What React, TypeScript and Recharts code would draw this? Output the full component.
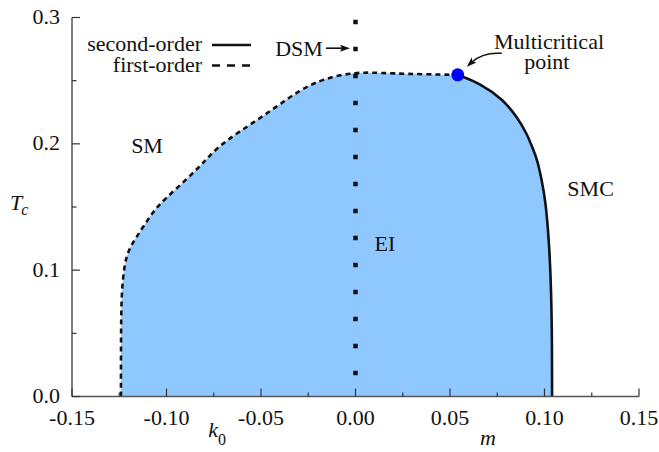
import React from 'react';
import {
  ComposedChart,
  Area,
  Line,
  Scatter,
  XAxis,
  YAxis,
  ReferenceDot,
  Legend,
} from 'recharts';

const FONT = 'Liberation Serif';
const INK = '#111';
const FRAME = '#555';
const FILL = '#8fc7ff';

// First-order branch of the phase boundary (k0 side up to the multicritical point)
const firstOrderX = [
  -0.1241, -0.1241, -0.124, -0.1237, -0.1225, -0.1202, -0.1158, -0.1105, -0.1052,
  -0.0946, -0.0823, -0.077, -0.0681, -0.0558, -0.0417, -0.0294, -0.0188, -0.01,
  0.0, 0.008, 0.02, 0.035, 0.0541,
];
const firstOrderT = [
  0, 0.03, 0.0632, 0.0817, 0.1028, 0.116, 0.1265, 0.1384, 0.1503,
  0.1648, 0.182, 0.1912, 0.2031, 0.215, 0.2295, 0.2427, 0.25, 0.254,
  0.2562, 0.2565, 0.2557, 0.2551, 0.2546,
];

// Second-order branch (m side, from the multicritical point down to T = 0)
const secondOrderX = [
  0.0541, 0.0659, 0.0782, 0.0853, 0.0906, 0.0941, 0.0962, 0.0985, 0.1005, 0.1025,
  0.1036, 0.104, 0.104,
];
const secondOrderT = [
  0.2546, 0.248, 0.235, 0.2215, 0.2084, 0.1952, 0.1872, 0.1714, 0.1556, 0.1215,
  0.082, 0.04, 0,
];

// Multicritical point
const multicriticalX = 0.0541;
const multicriticalT = 0.2546;

// DSM line at k0 = m = 0
const dsmX = [0, 0];
const dsmT = [0.3, 0];

// Axis ticks
const xTicks = [-0.15, -0.1, -0.05, 0, 0.05, 0.1, 0.15];
const xMinorTicks = [-0.125, -0.075, -0.025, 0.025, 0.075, 0.125];
const yTicks = [0, 0.1, 0.2, 0.3];
const yMinorTicks = [0.05, 0.15, 0.25];

const toPoints = (xs: number[], ts: number[]) => xs.map((x, i) => ({ x, y: ts[i] }));

const firstOrder = toPoints(firstOrderX, firstOrderT);
const secondOrder = toPoints(secondOrderX, secondOrderT);
const boundary = [...firstOrder, ...secondOrder.slice(1)];
const dsm = toPoints(dsmX, dsmT);
const multicritical = [{ x: multicriticalX, y: multicriticalT }];

const allX = [...xTicks, ...xMinorTicks].sort((a, b) => a - b);
const allY = [...yTicks, ...yMinorTicks].sort((a, b) => a - b);

const isMajor = (list: number[], v: number) => list.some((t) => Math.abs(t - v) < 1e-9);

const Label = ({ x, y, anchor = 'middle', size = 22, italic = false, children }: any) => (
  <text
    x={x}
    y={y}
    textAnchor={anchor}
    fill={INK}
    style={{ fontFamily: FONT, fontSize: size, fontStyle: italic ? 'italic' : 'normal' }}
  >
    {children}
  </text>
);

const BottomTick = (props: any) => {
  const { x, y, payload } = props;
  const v = payload.value as number;
  const major = isMajor(xTicks, v);
  return (
    <g>
      <line x1={x} x2={x} y1={y} y2={y - (major ? 8 : 4)} stroke="#333" strokeWidth={1.2} />
      {major && (
        <Label x={x} y={y + 28.5}>
          {v.toFixed(2)}
        </Label>
      )}
    </g>
  );
};

const TopTick = (props: any) => {
  const { x, y, payload } = props;
  const major = isMajor(xTicks, payload.value);
  return <line x1={x} x2={x} y1={y} y2={y + (major ? 8 : 4)} stroke="#333" strokeWidth={1.2} />;
};

const LeftTick = (props: any) => {
  const { x, y, payload } = props;
  const v = payload.value as number;
  const major = isMajor(yTicks, v);
  return (
    <g>
      <line x1={x} x2={x + (major ? 8 : 4.5)} y1={y} y2={y} stroke="#333" strokeWidth={1.2} />
      {major && (
        <Label x={x - 12} y={y + 6.5} anchor="end">
          {v.toFixed(1)}
        </Label>
      )}
    </g>
  );
};

const RightTick = (props: any) => {
  const { x, y, payload } = props;
  const major = isMajor(yTicks, payload.value);
  return <line x1={x} x2={x - (major ? 8 : 4.5)} y1={y} y2={y} stroke="#333" strokeWidth={1.2} />;
};

const textShape =
  (label: string, anchor: 'start' | 'middle' | 'end' = 'middle') =>
  (p: any) => (
    <Label x={p.cx} y={p.cy} anchor={anchor}>
      {label}
    </Label>
  );

// Straight arrow pointing right, tip at the reference point
const rightArrow = (p: any) => {
  const { cx, cy } = p;
  return (
    <g>
      <line x1={cx - 24} x2={cx - 7} y1={cy} y2={cy} stroke={INK} strokeWidth={1.6} />
      <path d={`M ${cx} ${cy} L ${cx - 10} ${cy - 3.5} L ${cx - 8} ${cy} L ${cx - 10} ${cy + 3.5} Z`} fill={INK} />
    </g>
  );
};

// Curved arrow ending at the reference point
const curvedArrow = (p: any) => {
  const { cx, cy } = p;
  const ux = -0.73;
  const uy = 0.68;
  const back = 10;
  const half = 3.6;
  const bx = cx - ux * back;
  const by = cy - uy * back;
  return (
    <g>
      <path
        d={`M ${cx + 35} ${cy - 13.3} Q ${cx + 15.9} ${cy - 14.7} ${cx + ux * -6} ${cy + uy * -6}`}
        fill="none"
        stroke={INK}
        strokeWidth={1.5}
      />
      <path
        d={`M ${cx} ${cy} L ${bx - uy * half} ${by + ux * half} L ${cx - ux * 7.5} ${cy - uy * 7.5} L ${bx + uy * half} ${by - ux * half} Z`}
        fill={INK}
      />
    </g>
  );
};

const axisTitleTc = (p: any) => (
  <text x={p.cx} y={p.cy} fill={INK} style={{ fontFamily: FONT, fontStyle: 'italic', fontSize: 22 }}>
    T
    <tspan dx={-1} dy={5} style={{ fontSize: 16 }}>c</tspan>
  </text>
);

const axisTitleK0 = (p: any) => (
  <text x={p.cx} y={p.cy} fill={INK} style={{ fontFamily: FONT, fontStyle: 'italic', fontSize: 22 }}>
    k
    <tspan dy={8} style={{ fontSize: 16, fontStyle: 'normal' }}>0</tspan>
  </text>
);

const axisTitleM = (p: any) => (
  <Label x={p.cx} y={p.cy} anchor="start" italic>
    m
  </Label>
);

const legendOrder = ['second-order', 'first-order'];

const LegendContent = (props: any) => {
  const items = (props.payload || [])
    .filter((e: any) => legendOrder.includes(e.value))
    .sort((a: any, b: any) => legendOrder.indexOf(a.value) - legendOrder.indexOf(b.value));
  return (
    <svg width={260} height={80} style={{ display: 'block' }}>
      {items.map((e: any, i: number) => {
        const base = 51 + i * 20.5;
        const dash = e.payload?.strokeDasharray ? '8 7' : undefined;
        return (
          <g key={e.value}>
            <Label x={202} y={base} anchor="end">
              {e.value}
            </Label>
            <line x1={212} x2={251} y1={base - 6} y2={base - 6} stroke={INK} strokeWidth={2.6} strokeDasharray={dash} />
          </g>
        );
      })}
    </svg>
  );
};

export default function App() {
  return (
    <div style={{ position: 'absolute', left: 0, top: 0, width: 659, height: 452, background: '#fff', fontFamily: FONT }}>
      <ComposedChart
        width={659}
        height={452}
        margin={{ top: 17.5, right: 20, bottom: 15.5, left: 12 }}
        style={{ fontFamily: FONT }}
      >
        <XAxis
          xAxisId="b"
          type="number"
          dataKey="x"
          domain={[-0.15, 0.15]}
          ticks={allX}
          interval={0}
          allowDataOverflow
          height={40}
          tickSize={0}
          tickMargin={0}
          tickLine={false}
          axisLine={{ stroke: FRAME, strokeWidth: 1.5 }}
          tick={<BottomTick />}
        />
        <XAxis
          xAxisId="t"
          orientation="top"
          type="number"
          dataKey="x"
          domain={[-0.15, 0.15]}
          ticks={allX}
          interval={0}
          allowDataOverflow
          height={0}
          tickSize={0}
          tickMargin={0}
          tickLine={false}
          axisLine={{ stroke: FRAME, strokeWidth: 1.5 }}
          tick={<TopTick />}
        />
        <YAxis
          yAxisId="l"
          type="number"
          dataKey="y"
          domain={[0, 0.3]}
          ticks={allY}
          interval={0}
          allowDataOverflow
          width={60}
          tickSize={0}
          tickMargin={0}
          tickLine={false}
          axisLine={{ stroke: FRAME, strokeWidth: 1.5 }}
          tick={<LeftTick />}
        />
        <YAxis
          yAxisId="r"
          orientation="right"
          type="number"
          dataKey="y"
          domain={[0, 0.3]}
          ticks={allY}
          interval={0}
          allowDataOverflow
          width={0}
          tickSize={0}
          tickMargin={0}
          tickLine={false}
          axisLine={{ stroke: FRAME, strokeWidth: 1.5 }}
          tick={<RightTick />}
        />

        <Area
          xAxisId="b"
          yAxisId="l"
          data={boundary}
          dataKey="y"
          type="basis"
          baseValue={0}
          fill={FILL}
          fillOpacity={1}
          stroke="none"
          legendType="none"
          isAnimationActive={false}
        />
        <Line
          xAxisId="b"
          yAxisId="l"
          data={dsm}
          dataKey="y"
          type="linear"
          stroke={INK}
          strokeWidth={4.5}
          strokeDasharray="4.5 22.5"
          strokeDashoffset={-2.25}
          dot={false}
          legendType="none"
          isAnimationActive={false}
        />
        <Line
          xAxisId="b"
          yAxisId="l"
          name="second-order"
          data={secondOrder}
          dataKey="y"
          type="basis"
          stroke={INK}
          strokeWidth={2.6}
          dot={false}
          isAnimationActive={false}
        />
        <Line
          xAxisId="b"
          yAxisId="l"
          name="first-order"
          data={firstOrder}
          dataKey="y"
          type="basis"
          stroke={INK}
          strokeWidth={2.6}
          strokeDasharray="5 4"
          dot={false}
          isAnimationActive={false}
        />
        <Scatter
          xAxisId="b"
          yAxisId="l"
          data={multicritical}
          dataKey="y"
          fill="#0000ff"
          legendType="none"
          isAnimationActive={false}
          shape={(p: any) => <circle cx={p.cx} cy={p.cy} r={6.5} fill="#0000ff" />}
        />

        <ReferenceDot xAxisId="b" yAxisId="l" x={-0.1103} y={0.1928} shape={textShape('SM')} />
        <ReferenceDot xAxisId="b" yAxisId="l" x={0.0156} y={0.1155} shape={textShape('EI')} />
        <ReferenceDot xAxisId="b" yAxisId="l" x={0.1244} y={0.1587} shape={textShape('SMC')} />
        <ReferenceDot xAxisId="b" yAxisId="l" x={-0.0299} y={0.2696} shape={textShape('DSM')} />
        <ReferenceDot xAxisId="b" yAxisId="l" x={-0.0029} y={0.2757} shape={rightArrow} />
        <ReferenceDot xAxisId="b" yAxisId="l" x={0.1024} y={0.2751} shape={textShape('Multicritical')} />
        <ReferenceDot xAxisId="b" yAxisId="l" x={0.1012} y={0.2595} shape={textShape('point')} />
        <ReferenceDot xAxisId="b" yAxisId="l" x={0.0589} y={0.2611} shape={curvedArrow} />

        <ReferenceDot xAxisId="b" yAxisId="l" x={-0.1828} y={0.1476} ifOverflow="visible" shape={axisTitleTc} />
        <ReferenceDot xAxisId="b" yAxisId="l" x={-0.0779} y={-0.0321} ifOverflow="visible" shape={axisTitleK0} />
        <ReferenceDot xAxisId="b" yAxisId="l" x={0.0659} y={-0.0384} ifOverflow="visible" shape={axisTitleM} />

        <Legend
          layout="vertical"
          align="center"
          verticalAlign="middle"
          wrapperStyle={{ left: 0, top: 0, width: 260, height: 80 }}
          content={<LegendContent />}
        />
      </ComposedChart>
    </div>
  );
}
